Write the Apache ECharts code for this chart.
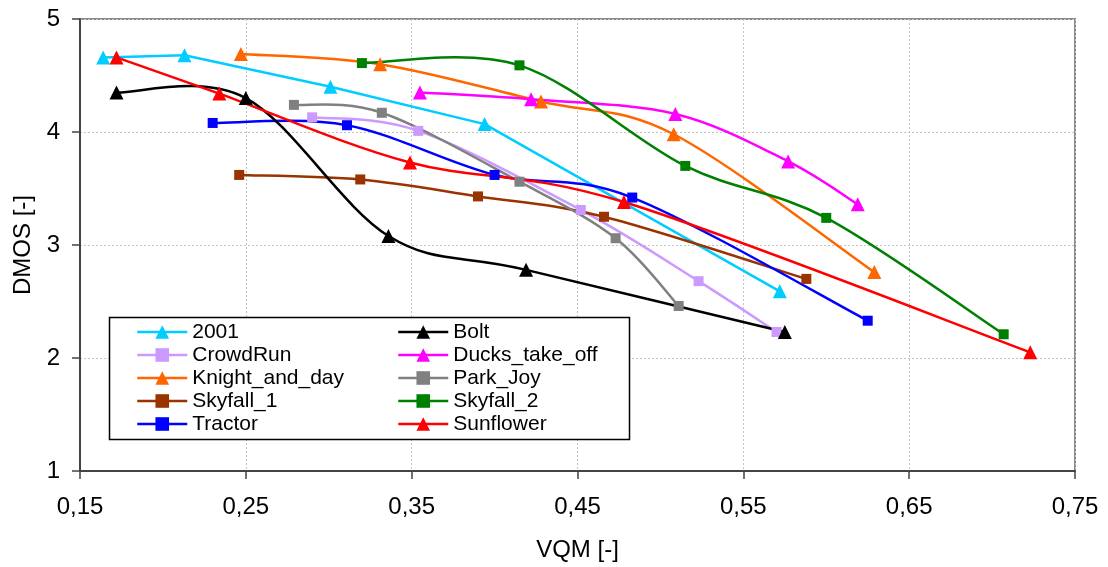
<!DOCTYPE html>
<html>
<head>
<meta charset="utf-8">
<script src="https://cdn.jsdelivr.net/npm/echarts@6/dist/echarts.min.js"></script>
<style>
  html, body { margin: 0; padding: 0; background: #fff; }
  #chart { width: 1108px; height: 567px; }
</style>
</head>
<body>
<div id="chart"></div>
<script>
// VQM (x) / DMOS (y) pairs per sequence
const names = ["2001", "CrowdRun", "Knight_and_day", "Skyfall_1", "Tractor",
               "Bolt", "Ducks_take_off", "Park_Joy", "Skyfall_2", "Sunflower"];
const colors = ["#00CCFF", "#CC99FF", "#FF6600", "#993300", "#0000FF",
                "#000000", "#FF00FF", "#808080", "#008000", "#FF0000"];
const symbols = ["triangle", "rect", "triangle", "rect", "rect",
                 "triangle", "triangle", "rect", "rect", "triangle"];
// 2001 is drawn with straight segments in the original
const smoothed = [false, true, true, true, true, true, true, true, true, true];

const vqm2001 = [0.164, 0.213, 0.301, 0.394, 0.572];
const dmos2001 = [4.66, 4.68, 4.40, 4.07, 2.59];
const vqmCrowdRun = [0.290, 0.354, 0.452, 0.523, 0.570];
const dmosCrowdRun = [4.13, 4.01, 3.31, 2.68, 2.23];
const vqmKnight = [0.247, 0.331, 0.428, 0.508, 0.629];
const dmosKnight = [4.69, 4.60, 4.27, 3.98, 2.76];
const vqmSkyfall1 = [0.246, 0.319, 0.390, 0.466, 0.588];
const dmosSkyfall1 = [3.62, 3.58, 3.43, 3.25, 2.70];
const vqmTractor = [0.230, 0.311, 0.400, 0.483, 0.625];
const dmosTractor = [4.08, 4.06, 3.62, 3.42, 2.33];
const vqmBolt = [0.172, 0.250, 0.336, 0.419, 0.575];
const dmosBolt = [4.35, 4.30, 3.08, 2.78, 2.23];
const vqmDucks = [0.355, 0.422, 0.509, 0.577, 0.619];
const dmosDucks = [4.35, 4.29, 4.16, 3.74, 3.36];
const vqmParkJoy = [0.279, 0.332, 0.415, 0.473, 0.511];
const dmosParkJoy = [4.24, 4.17, 3.56, 3.06, 2.46];
const vqmSkyfall2 = [0.320, 0.415, 0.515, 0.600, 0.707];
const dmosSkyfall2 = [4.61, 4.59, 3.70, 3.24, 2.21];
const vqmSunflower = [0.172, 0.234, 0.349, 0.478, 0.723];
const dmosSunflower = [4.66, 4.34, 3.73, 3.38, 2.05];

const xs = [vqm2001, vqmCrowdRun, vqmKnight, vqmSkyfall1, vqmTractor,
            vqmBolt, vqmDucks, vqmParkJoy, vqmSkyfall2, vqmSunflower];
const ys = [dmos2001, dmosCrowdRun, dmosKnight, dmosSkyfall1, dmosTractor,
            dmosBolt, dmosDucks, dmosParkJoy, dmosSkyfall2, dmosSunflower];

const FONT = "Liberation Sans, Arial, sans-serif";

// excel-like smoothed line: catmull-rom segments through the projected points
function renderCurve(params, api) {
  const i = api.value(0);
  const pts = xs[i].map((x, k) => api.coord([x, ys[i][k]]));
  const n = pts.length;
  const t = smoothed[i] ? 1 / 6 : 0;
  const children = [];
  for (let k = 0; k < n - 1; k++) {
    const p0 = pts[Math.max(k - 1, 0)];
    const p1 = pts[k];
    const p2 = pts[k + 1];
    const p3 = pts[Math.min(k + 2, n - 1)];
    children.push({
      type: "bezierCurve",
      shape: {
        x1: p1[0], y1: p1[1], x2: p2[0], y2: p2[1],
        cpx1: p1[0] + (p2[0] - p0[0]) * t, cpy1: p1[1] + (p2[1] - p0[1]) * t,
        cpx2: p2[0] - (p3[0] - p1[0]) * t, cpy2: p2[1] - (p3[1] - p1[1]) * t
      },
      style: { stroke: colors[i], lineWidth: 2.5, fill: null, lineCap: "round" }
    });
  }
  return { type: "group", children: children };
}

const markerSeries = names.map((name, i) => ({
  name: name,
  type: "line",
  data: xs[i].map((x, k) => [x, ys[i][k]]),
  symbol: symbols[i],
  symbolSize: symbols[i] === "rect" ? 10 : 14,
  showSymbol: true,
  color: colors[i],
  lineStyle: { width: 2.5, color: colors[i], opacity: 0 },
  itemStyle: { color: colors[i] },
  emphasis: { disabled: true },
  z: 2
}));

const curveSeries = {
  name: "curves",
  type: "custom",
  renderItem: renderCurve,
  data: names.map((n, i) => [i]),
  encode: { x: -1, y: -1 },
  silent: true,
  z: 1
};

const legendBase = {
  orient: "vertical",
  padding: 0,
  itemWidth: 50,
  itemHeight: 17,
  itemGap: 1,
  lineStyle: { width: 2.5, opacity: 1 },
  textStyle: { fontFamily: FONT, fontSize: 21, color: "#000", lineHeight: 22 },
  selectedMode: false
};

const chart = echarts.init(document.getElementById("chart"), null, { renderer: "canvas" });
chart.setOption({
  backgroundColor: "#fff",
  animation: false,
  grid: {
    left: 80, right: 33, top: 19, bottom: 95,
    show: true, borderColor: "#8a8a8a", borderWidth: 2
  },
  xAxis: {
    type: "value",
    min: 0.15, max: 0.75, interval: 0.1,
    name: "VQM [-]",
    nameLocation: "middle",
    nameGap: 67,
    nameTextStyle: { fontFamily: FONT, fontSize: 24, color: "#000" },
    axisLine: { show: true, onZero: false, lineStyle: { color: "#444", width: 2 } },
    axisTick: { show: true, length: 8, lineStyle: { color: "#444", width: 1.5 } },
    axisLabel: {
      fontFamily: FONT, fontSize: 24, color: "#000", margin: 24,
      formatter: v => v.toFixed(2).replace(".", ",")
    },
    splitLine: { show: true, lineStyle: { color: "#c4c4c4", type: [2, 2], width: 1 } }
  },
  yAxis: {
    type: "value",
    min: 1, max: 5, interval: 1,
    name: "DMOS [-]",
    nameLocation: "middle",
    nameGap: 45,
    nameTextStyle: { fontFamily: FONT, fontSize: 24, color: "#000" },
    axisLine: { show: true, onZero: false, lineStyle: { color: "#444", width: 2 } },
    axisTick: { show: true, length: 8, lineStyle: { color: "#444", width: 1.5 } },
    axisLabel: { fontFamily: FONT, fontSize: 24, color: "#000", margin: 20 },
    splitLine: { show: true, lineStyle: { color: "#c4c4c4", type: [2, 2], width: 1 } }
  },
  legend: [
    Object.assign({}, legendBase, { left: 136, top: 321, data: names.slice(0, 5) }),
    Object.assign({}, legendBase, { left: 397, top: 321, data: names.slice(5) })
  ],
  graphic: [{
    type: "rect",
    shape: { x: 109.5, y: 317.5, width: 520, height: 122 },
    style: { fill: "#fff", stroke: "#000", lineWidth: 1.5 },
    z: 3
  }],
  series: [curveSeries].concat(markerSeries)
});
</script>
</body>
</html>
